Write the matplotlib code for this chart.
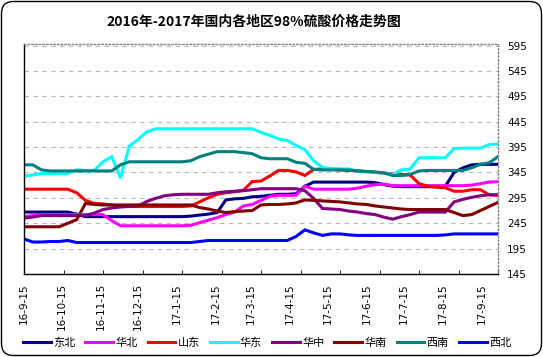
import numpy as np
import matplotlib
matplotlib.use('Agg')
import matplotlib.pyplot as plt
from matplotlib.patches import FancyBboxPatch
from matplotlib.transforms import IdentityTransform

plt.rcParams['font.family'] = ['DejaVu Sans', 'Noto Sans CJK SC']

title = '2016年-2017年国内各地区98%硫酸价格走势图'

# weekly points starting 2016-09-15 (x in days)
days = np.arange(55) * 7

x_labels = ['16-9-15', '16-10-15', '16-11-15', '16-12-15', '17-1-15', '17-2-15',
            '17-3-15', '17-4-15', '17-5-15', '17-6-15', '17-7-15', '17-8-15', '17-9-15']
label_days = [0, 30, 61, 91, 122, 153, 181, 212, 242, 273, 303, 334, 365]

names = ['东北', '华北', '山东', '华东', '华中', '华南', '西南', '西北']
colors = ['#000080', '#FF00FF', '#FF0000', '#00FFFF', '#800080', '#800000', '#008080', '#0000FF']

dongbei = [267]*6 + [263] + [258]*12 + [259, 261, 263, 266, 291, 293, 294, 297, 298, 300,
           302, 302, 303, 318, 326] + [326]*6 + [325, 321, 318] + [317]*5 + [318, 345, 354, 360] + [361]*3
huabei = [258, 260] + [262]*8 + [250] + [240]*8 + [241, 246, 251, 256, 262, 267, 279, 282, 290, 298] \
    + [300]*3 + [318] + [312]*5 + [314, 318, 321, 322] + [319]*9 + [320, 323, 326, 327]
shandong = [312]*6 + [305, 290, 284, 283, 281] + [278]*8 + [279, 287, 295, 302, 305, 307, 310, 327, 328, 338,
            349, 349, 346, 339, 351, 352, 351, 350, 349, 348,
            347, 345, 344, 342, 341, 340, 323, 318, 316, 315,
            308, 308, 311, 311, 301, 300]
huadong = [338, 340] + [343]*4 + [350, 349, 349, 366, 376, 334, 397, 410, 425] + [431]*12 \
    + [424, 418, 411, 408, 398, 390, 368, 355, 353, 352, 352, 347, 346, 345, 344, 341, 350, 352] \
    + [374]*4 + [392] + [393]*3 + [400, 401]
huazhong = [255, 257] + [260]*6 + [265, 272, 275, 277, 278, 279, 288, 294, 299, 301] + [302]*4 \
    + [305, 307, 308, 309, 311] + [313]*5 \
    + [309, 294, 274, 273, 272, 269, 267, 264, 262, 257, 253, 258, 262] + [267]*4 \
    + [287, 292, 296, 299, 301, 301]
huanan = [238]*5 + [245, 252, 284, 282] + [281]*11 + [276, 273, 269, 266, 268, 269, 270,
          281, 282, 282, 283, 285, 291, 290, 289, 288, 287,
          285, 283, 282, 279, 277, 275, 273] + [272]*5 + [266, 260, 262, 270, 278, 286]
xinan = [360, 360, 350] + [348]*8 + [360] + [366]*7 + [368, 376, 381] + [386]*3 + [384, 382, 374] \
    + [372]*3 + [365, 363, 351] + [350]*4 + [348, 347, 346, 344, 339, 339, 341, 348] + [349]*5 \
    + [354, 361, 364, 376]
xibei = [214, 208, 208, 209, 209, 211] + [207]*14 + [209] + [211]*10 \
    + [219, 232, 226, 221, 224, 224, 222] + [221]*10 + [222] + [224]*6

series = [dongbei, huabei, shandong, huadong, huazhong, huanan, xinan, xibei]

fig = plt.figure(figsize=(5.43, 3.57), dpi=100)
ax = fig.add_axes([24/543, 83/357, 474/543, 230/357])

handles = []
for name, vals, c in zip(names, series, colors):
    h, = ax.plot(days, vals, color=c, lw=2.2, label=name, solid_joinstyle='miter')
    handles.append(h)

ax.set_xlim(0, 378)
ax.set_ylim(145, 598)
ax.set_yticks(np.arange(145, 596, 50))
ax.yaxis.tick_right()
ax.tick_params(axis='y', length=0, pad=6.5, labelsize=7.5)
ax.set_xticks(label_days)
ax.set_xticklabels(x_labels, rotation=90, fontsize=7.5)
ax.tick_params(axis='x', which='major', length=0, pad=6.5)
ax.set_xticks(np.arange(1, 13) * 31.5, minor=True)
ax.tick_params(axis='x', which='minor', direction='in', length=3, color='black')
ax.grid(axis='y', color='#b8b8b8', ls=(0, (4, 4)), lw=0.8)
ax.set_axisbelow(True)

for s in ['left', 'bottom']:
    ax.spines[s].set_color('black')
    ax.spines[s].set_linewidth(1)
for s in ['top', 'right']:
    ax.spines[s].set_color('#808080')
    ax.spines[s].set_linestyle(':')
    ax.spines[s].set_linewidth(1)

fig.text(254/543, 1 - 22/357, title, ha='center', va='center', fontsize=10,
         fontweight='bold', family=['Noto Sans CJK SC', 'DejaVu Sans'])

fig.legend(handles, names, loc='center', bbox_to_anchor=(0.492, 1 - 343/357), ncol=8,
           frameon=False, fontsize=8, handlelength=2.5, handletextpad=0.2, columnspacing=0.9)

border = FancyBboxPatch((1.5, 1.5), 540, 354, boxstyle='round,pad=0,rounding_size=12',
                        transform=IdentityTransform(), fill=False, ec='black', lw=1)
fig.add_artist(border)

fig.savefig('out.png', dpi=100)
